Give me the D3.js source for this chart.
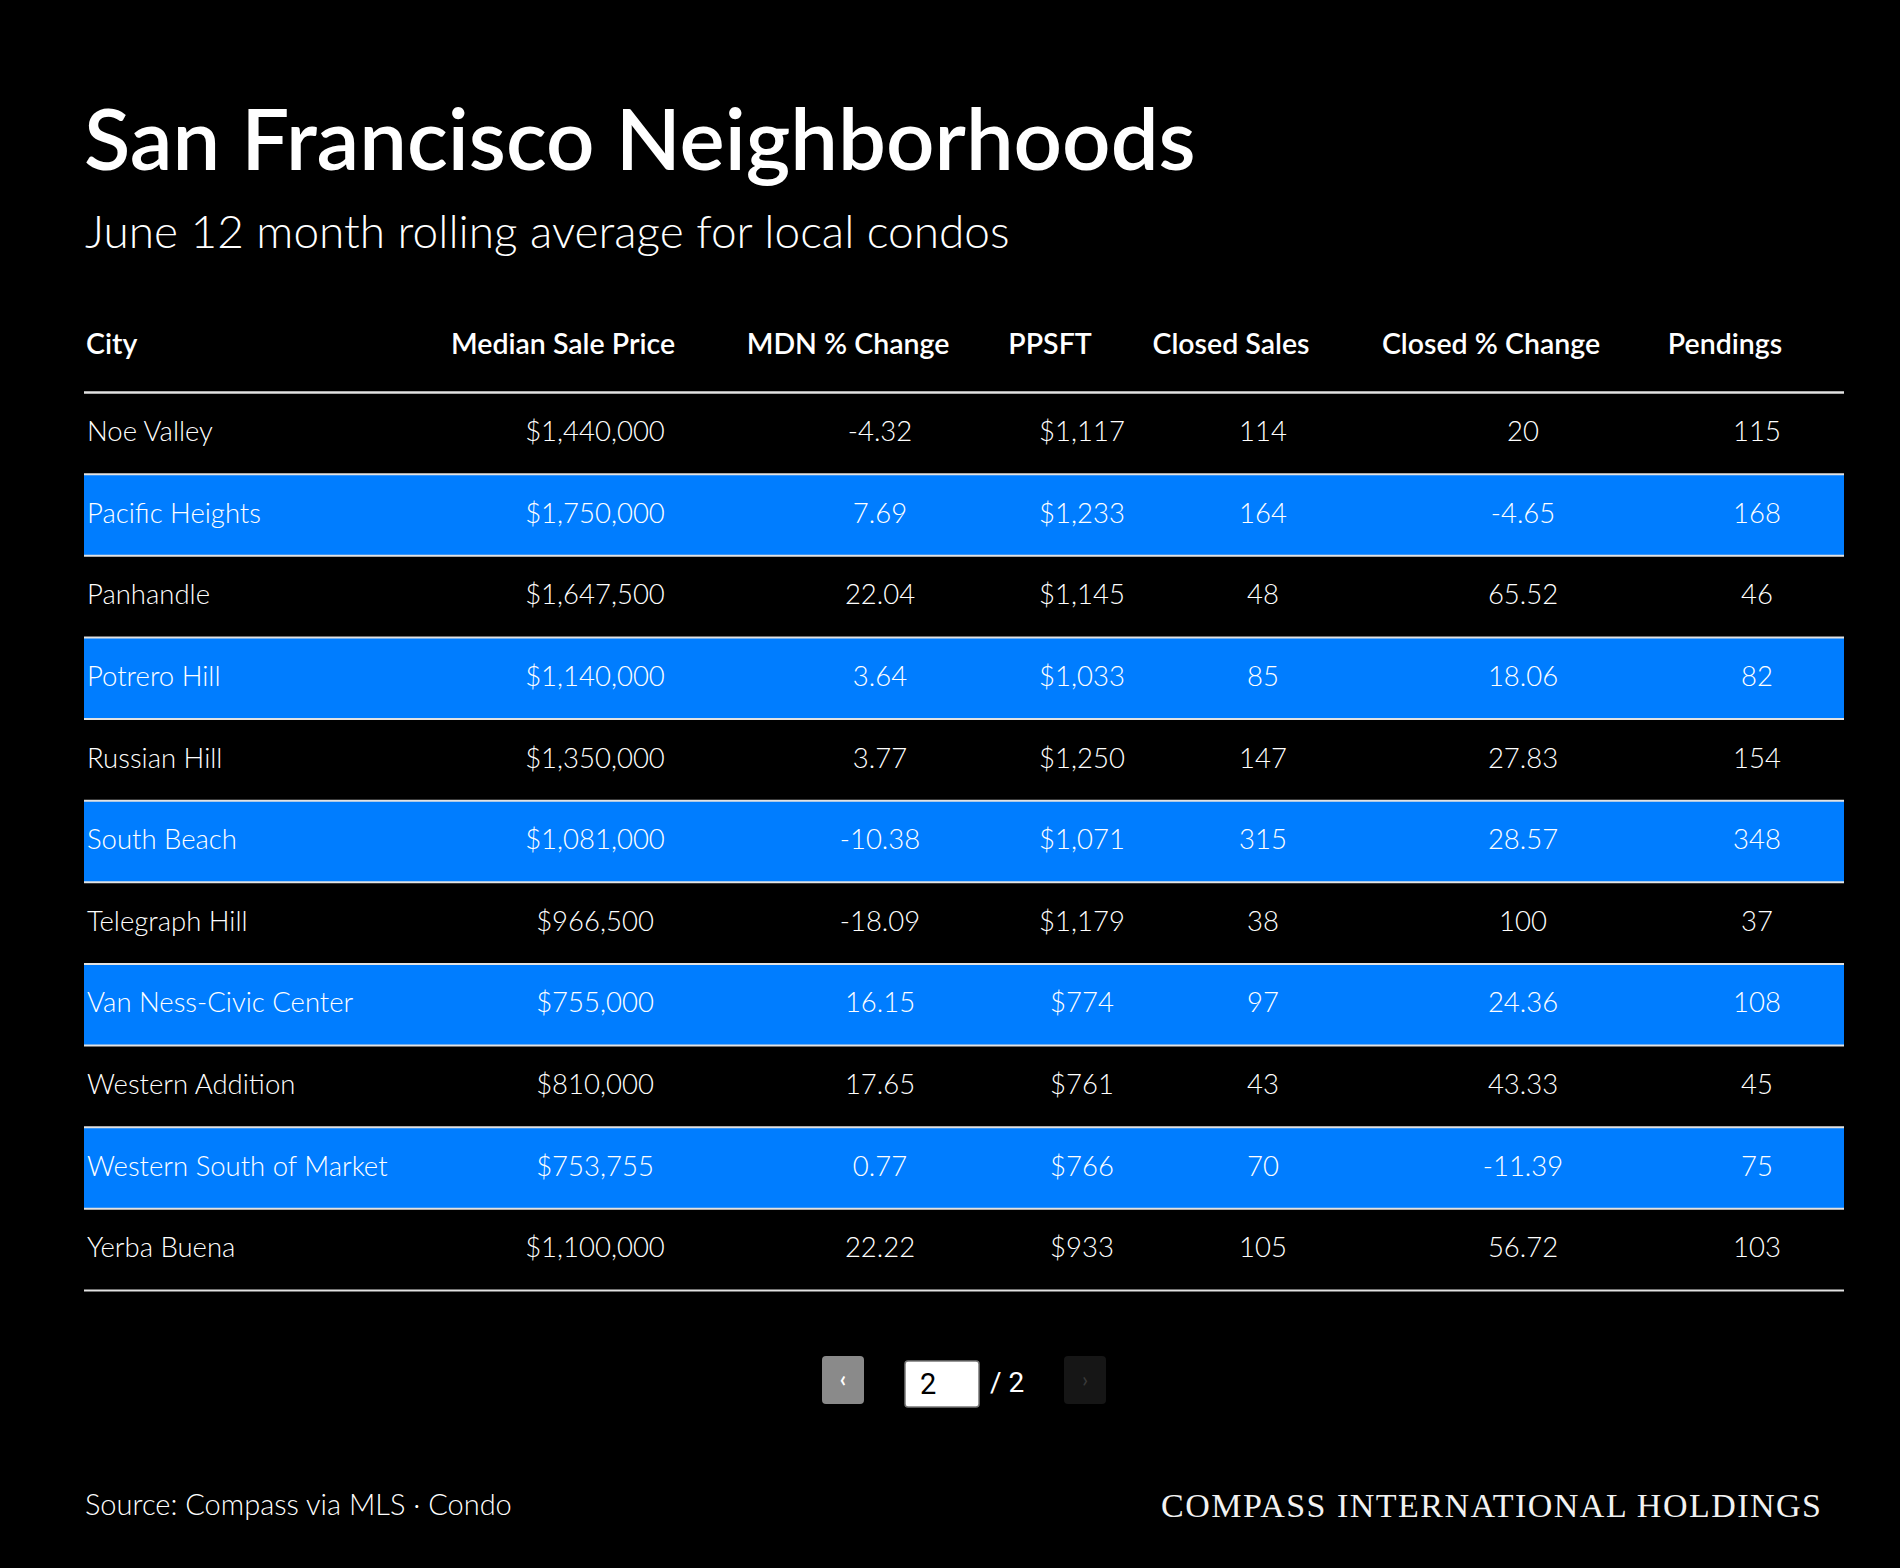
<!DOCTYPE html>
<meta charset="utf-8">
<style>
body { margin: 0; background: #000; }
text { font-family: Lato, "Noto Sans", sans-serif; fill: #fff; }
.title { font-weight: 600; }
.sub { font-weight: 300; }
.head { font-weight: 600; }
.cell { font-weight: 300; }
.source { font-weight: 300; }
.logo { font-family: "Liberation Serif", "DejaVu Serif", serif; fill: #f2f2f2; }
</style>
<svg width="1900" height="1568"></svg>
<script src="https://d3js.org/d3.v7.min.js"></script>
<script>

var headers = ["City", "Median Sale Price", "MDN % Change", "PPSFT", "Closed Sales", "Closed % Change", "Pendings"];

var cities = ["Noe Valley", "Pacific Heights", "Panhandle", "Potrero Hill", "Russian Hill", "South Beach",
  "Telegraph Hill", "Van Ness-Civic Center", "Western Addition", "Western South of Market", "Yerba Buena"];
var medianPrice = [1440000, 1750000, 1647500, 1140000, 1350000, 1081000, 966500, 755000, 810000, 753755, 1100000];
var mdnChange = [-4.32, 7.69, 22.04, 3.64, 3.77, -10.38, -18.09, 16.15, 17.65, 0.77, 22.22];
var ppsft = [1117, 1233, 1145, 1033, 1250, 1071, 1179, 774, 761, 766, 933];
var closedSales = [114, 164, 48, 85, 147, 315, 38, 97, 43, 70, 105];
var closedChange = [20, -4.65, 65.52, 18.06, 27.83, 28.57, 100, 24.36, 43.33, -11.39, 56.72];
var pendings = [115, 168, 46, 82, 154, 348, 37, 108, 45, 75, 103];

var page = 2, pages = 2;

var svg = d3.select("svg"),
    width = +svg.attr("width"),
    height = +svg.attr("height");

svg.append("rect").attr("width", width).attr("height", height).attr("fill", "#000");

// column widths (relative) and table frame
var colWeights = [360, 302, 268, 136, 226, 294, 174];
var left = 84, right = 1844, headLine = 392.6, bottom = 1290.5;
var edges = [0].concat(Array.from(d3.cumsum(colWeights)));
var xw = d3.scaleLinear().domain([0, d3.sum(colWeights)]).range([left, right]);
var colCenter = function(i) { return xw((edges[i] + edges[i + 1]) / 2); };

var y = d3.scaleBand().domain(d3.range(cities.length)).range([headLine, bottom]);

var money = d3.format("$,");
var plain = function(v) { return String(v); };

var rows = cities.map(function(c, i) {
  return [c, money(medianPrice[i]), plain(mdnChange[i]), money(ppsft[i]),
          plain(closedSales[i]), plain(closedChange[i]), plain(pendings[i])];
});

// title block
svg.append("text").attr("class", "title")
    .attr("x", 84).attr("y", 170)
    .style("font-size", "85px")
    .text("San Francisco Neighborhoods");

svg.append("text").attr("class", "sub")
    .attr("x", 85).attr("y", 248)
    .style("font-size", "46px")
    .text("June 12 month rolling average for local condos");

// header
svg.selectAll(".head").data(headers).join("text")
    .attr("class", "head")
    .attr("x", function(d, i) { return i === 0 ? left + 2 : colCenter(i) - 32; })
    .attr("y", 354)
    .attr("text-anchor", function(d, i) { return i === 0 ? "start" : "middle"; })
    .style("font-size", "28.5px")
    .text(function(d) { return d; });

// row stripes
var rowG = svg.selectAll(".row").data(rows).join("g")
    .attr("class", "row")
    .attr("transform", function(d, i) { return "translate(0," + y(i) + ")"; });

rowG.append("rect")
    .attr("x", left).attr("width", right - left)
    .attr("height", y.bandwidth())
    .attr("fill", function(d, i) { return i % 2 ? "#007dff" : "#000"; });

rowG.selectAll(".cell").data(function(d) { return d; }).join("text")
    .attr("class", "cell")
    .attr("x", function(d, j) { return j === 0 ? left + 3 : colCenter(j); })
    .attr("y", y.bandwidth() / 2)
    .attr("dy", "0.28em")
    .attr("text-anchor", function(d, j) { return j === 0 ? "start" : "middle"; })
    .style("font-size", "27.5px")
    .text(function(d) { return d; });

// rules
svg.selectAll(".rule").data(d3.range(cities.length + 1)).join("line")
    .attr("class", "rule")
    .attr("x1", left).attr("x2", right)
    .attr("y1", function(i) { return i < cities.length ? y(i) : bottom; })
    .attr("y2", function(i) { return i < cities.length ? y(i) : bottom; })
    .attr("stroke", "#e2e2e2")
    .attr("stroke-width", function(i) { return i === 0 ? 2.5 : 2; });

// pagination
var pg = svg.append("g");
pg.append("rect").attr("x", 822).attr("y", 1356).attr("width", 42).attr("height", 48)
    .attr("rx", 4).attr("fill", "#8a8a8a");
pg.append("text").attr("x", 843).attr("y", 1387).attr("text-anchor", "middle")
    .style("font-size", "22px").style("font-weight", 700).text("‹");
pg.append("rect").attr("x", 905).attr("y", 1361).attr("width", 74).attr("height", 46)
    .attr("rx", 3).attr("fill", "#fff").attr("stroke", "#777").attr("stroke-width", 1.5);
pg.append("text").attr("x", 920).attr("y", 1394).style("font-size", "29px")
    .style("fill", "#000").style("font-family", "Roboto, sans-serif").text(page);
pg.append("text").attr("x", 990).attr("y", 1392).style("font-size", "28px")
    .style("font-family", "Roboto, sans-serif").text("/ " + pages);
pg.append("rect").attr("x", 1064).attr("y", 1356).attr("width", 42).attr("height", 48)
    .attr("rx", 4).attr("fill", "#161616");
pg.append("text").attr("x", 1085).attr("y", 1387).attr("text-anchor", "middle")
    .style("font-size", "22px").style("fill", "#3a3a3a").text("›");

// footer
svg.append("text").attr("class", "source")
    .attr("x", 85).attr("y", 1515)
    .style("font-size", "29px")
    .text("Source: Compass via MLS · Condo");

svg.append("text").attr("class", "logo")
    .attr("x", 1161).attr("y", 1517)
    .attr("textLength", 660).attr("lengthAdjust", "spacing")
    .style("font-size", "34px")
    .text("COMPASS INTERNATIONAL HOLDINGS");

</script>
